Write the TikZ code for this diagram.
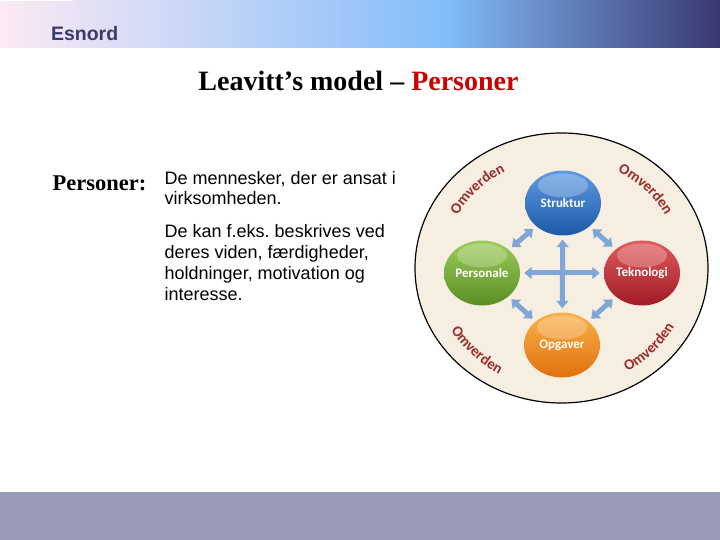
\documentclass[tikz,border=0pt]{standalone}
\usepackage{fontspec}
\setmainfont{Liberation Serif}
\setsansfont{Liberation Sans}
\newfontfamily\carl{Carlito}
\usetikzlibrary{shapes.geometric, arrows.meta, decorations.text}
\definecolor{hdA}{HTML}{FCEAF4}
\definecolor{hdB}{HTML}{82BDF9}
\definecolor{hdC}{HTML}{3A3870}
\definecolor{esn}{HTML}{3B3A6B}
\definecolor{foot}{HTML}{9A9AB9}
\definecolor{ttlred}{HTML}{CC0000}
\definecolor{parch}{HTML}{F6EEE1}
\definecolor{arr}{HTML}{7FA6D6}
\definecolor{omvc}{HTML}{9E2A2B}
\definecolor{bluT}{HTML}{5E9CE2}
\definecolor{bluB}{HTML}{1E58A8}
\definecolor{grnT}{HTML}{9CCB58}
\definecolor{grnB}{HTML}{5A8F26}
\definecolor{redT}{HTML}{E25A5E}
\definecolor{redB}{HTML}{A01B25}
\definecolor{orgT}{HTML}{FAB24A}
\definecolor{orgB}{HTML}{E0700E}
\newcommand\omvstyle{\carl\bfseries\fontsize{15}{17}\selectfont\color{omvc}}
\frenchspacing
\begin{document}
\begin{tikzpicture}[x=1pt,y=1pt,
  orb/.style={ellipse, minimum width=76pt, minimum height=65pt, inner sep=0pt,
    font=\carl\bfseries\fontsize{13}{15}\selectfont, text=white,
    path picture={\fill[white, fill opacity=.25] ([yshift=-15pt]path picture bounding box.north) ellipse [x radius=25pt, y radius=12pt];}},
  bidir/.style={draw=arr, line width=5pt,
    {Triangle[width=12pt,length=7.5pt]}-{Triangle[width=12pt,length=7.5pt]},
    shorten >=4pt, shorten <=4pt},
  bodyline/.style={anchor=base west, inner sep=0pt, font=\sffamily\fontsize{18}{21}\selectfont},
  omv/.style={decorate, font=\omvstyle, decoration={text along path, text={|\omvstyle|Omverden}, text align=center}}
]
\useasboundingbox (0,0) rectangle (720,540);
\fill[white] (0,0) rectangle (720,540);
% header band
\fill[left color=hdA, right color=hdB] (0,492) rectangle (446,540);
\fill[left color=hdB, right color=hdC] (445,492) rectangle (720,540);
\fill[white] (0,538.5) rectangle (73,540);
% footer band
\fill[foot] (0,0) rectangle (720,48);
\node[anchor=base west, inner sep=0pt, font=\sffamily\bfseries\fontsize{19.5}{22}\selectfont, text=esn] (brand) at (50.8,499.3) {Esnord};
% title
\node[anchor=base, inner sep=0pt, font=\bfseries\fontsize{28}{32}\selectfont] (title) at (358.5,449.3) {Leavitt’s model – \textcolor{ttlred}{Personer}};
% body text
\node[anchor=base west, inner sep=0pt, font=\bfseries\fontsize{22.5}{26}\selectfont] (lbl) at (52.5,349) {Personer:};
\node[bodyline] (l1) at (164.5,355.3) {De mennesker, der er ansat i};
\node[bodyline] (l2) at (164.5,335.3) {virksomheden.};
\node[bodyline] (l3) at (164.5,302) {De kan f.eks. beskrives ved};
\node[bodyline] (l4) at (164.5,281) {deres viden, færdigheder,};
\node[bodyline] (l5) at (164.5,260) {holdninger, motivation og};
\node[bodyline] (l6) at (164.5,239) {interesse.};
% diagram
\node[ellipse, minimum width=293pt, minimum height=270pt, inner sep=0pt, draw=black, line width=1.2pt, fill=parch] (env) at (561.5,272) {};
\path[omv, shift={(env.center)}] (153:118 and 110) arc[start angle=153, end angle=117, x radius=118, y radius=110];
\path[omv, shift={(env.center)}] (63:118 and 110) arc[start angle=63, end angle=27, x radius=118, y radius=110];
\path[omv, shift={(env.center)}] (208:129 and 121) arc[start angle=208, end angle=244, x radius=129, y radius=121];
\path[omv, shift={(env.center)}] (298:129 and 121) arc[start angle=298, end angle=334, x radius=129, y radius=121];
\node[orb, top color=bluT, bottom color=bluB] (s) at (563,337) {Struktur};
\node[orb, top color=grnT, bottom color=grnB] (p) at (482,267) {Personale};
\node[orb, top color=redT, bottom color=redB] (t) at (642,267) {Teknologi};
\node[orb, top color=orgT, bottom color=orgB] (o) at (562,195) {Opgaver};
\draw[bidir] (p) -- (t);
\draw[bidir] (s) -- (o);
\draw[bidir] (s) -- (p);
\draw[bidir] (s) -- (t);
\draw[bidir] (p) -- (o);
\draw[bidir] (t) -- (o);
\end{tikzpicture}
\end{document}
